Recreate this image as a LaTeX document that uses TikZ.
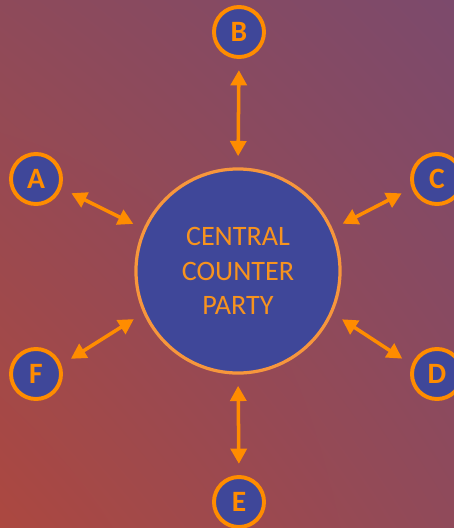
\documentclass[tikz,border=0pt]{standalone}
\usepackage{fontspec}
\setmainfont{Carlito}
\usetikzlibrary{arrows.meta,shadings}
\definecolor{hgll}{HTML}{AC4840}
\definecolor{hgul}{HTML}{8E4A5A}
\definecolor{hglr}{HTML}{904A5A}
\definecolor{hgur}{HTML}{7C4A6C}
\definecolor{blau}{HTML}{3F4799}
\definecolor{orng}{HTML}{FF8C00}
\definecolor{orngl}{HTML}{F7963C}
\definecolor{schrift}{HTML}{F7931E}
\tikzset{
  partei/.style={circle,draw=orng,fill=blau,line width=2.8pt,minimum size=1.25cm,inner sep=0pt,
    text=orng,font=\fontsize{21}{24}\selectfont\bfseries},
  zentrale/.style={circle,draw=orngl,fill=blau,line width=2.3pt,minimum size=5.1cm,inner sep=0pt,
    text=schrift,align=center,font=\fontsize{20}{24.5}\selectfont},
  dpfeil/.style={{Triangle[length=0.38cm,width=0.4cm]}-{Triangle[length=0.38cm,width=0.4cm]},
    orng,line width=2.5pt,shorten <=0.28cm,shorten >=0.28cm},
}

\begin{document}
\begin{tikzpicture}[x=0.025cm,y=-0.025cm]
  % ===== Hintergrund mit Farbverlauf =====
  \useasboundingbox (0,0) rectangle (454,528);
  \shade[upper left=hgul,upper right=hgur,lower left=hgll,lower right=hglr] (0,0) rectangle (454,528);
  % ===== zentrale Gegenpartei =====
  \node[zentrale] (ctr) at (238,271) {CENTRAL\\COUNTER\\PARTY};
  % ===== Teilnehmer rundherum mit Doppelpfeilen =====
  \foreach \n/\x/\y/\aus/\ein in {A/36/179/-20/156, B/239/32/-90/90, C/437/179/200/24,
                                  D/437/374/160/-24, E/239/502/90/-90, F/36/374/20/204}{
    \node[partei] (\n) at (\x,\y) {\n};
    \draw[dpfeil] (\n.\aus) -- (ctr.\ein);}
\end{tikzpicture}
\end{document}
